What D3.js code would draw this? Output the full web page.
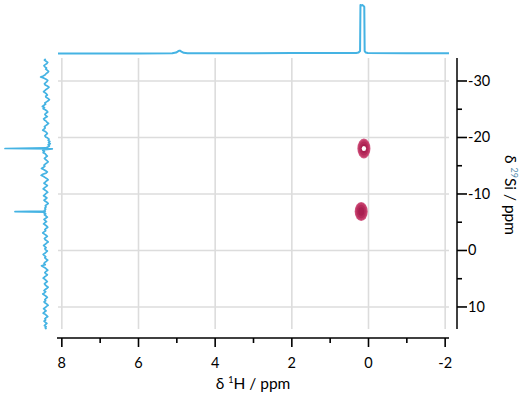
<!DOCTYPE html>
<html>
<head>
<meta charset="utf-8">
<script src="https://cdn.jsdelivr.net/npm/d3@7"></script>
<style>
  html, body { margin: 0; padding: 0; background: #fff; }
  svg { display: block; }
  text { font-family: Lato, "Noto Sans", sans-serif; }
</style>
</head>
<body>
<svg id="chart" width="532" height="402"></svg>
<script>
// ---------- DATA ----------
const hTicks = [8, 6, 4, 2, 0, -2];
const hMinorTicks = [7, 5, 3, 1, -1];
const siTicks = [-30, -20, -10, 0, 10];
const siMinorTicks = [-25, -15, -5, 5];

// Top projection: 1H spectrum [ppm, intensity]
const hSpectrum = [
  [8.1, 0], [6.0, 0], [5.12, 0.5], [5.02, 2], [4.96, 5], [4.92, 6], [4.88, 4], [4.82, 1.5], [4.72, 0.5],
  [2.0, 0.8], [0.32, 1], [0.26, 2], [0.22, 5], [0.21, 100], [0.18, 99], [0.16, 100], [0.13, 98],
  [0.11, 96], [0.10, 5], [0.07, 2], [0.02, 1], [-1.0, 0.5], [-2.1, 0.5]
];

// Left projection: 29Si spectrum [ppm, intensity]
const siSpectrum = [
  [-33.9, 2], [-33.7, 5], [-33.5, 1], [-33.3, -3], [-33.1, -1], [-32.9, 3], [-32.7, 6], [-32.5, 4],
  [-32.3, 0], [-32.1, 2], [-31.9, -2], [-31.7, -5], [-31.5, -3], [-31.3, 1], [-31.1, 3], [-30.9, 8],
  [-30.7, 14], [-30.5, 6], [-30.3, 1], [-30.1, -3], [-29.9, -1], [-29.7, 2], [-29.5, 5], [-29.3, 3],
  [-29.1, -2], [-28.9, -6], [-28.7, -3], [-28.5, 1], [-28.3, 4], [-28.1, 7], [-27.9, 3], [-27.7, 0],
  [-27.5, -2], [-27.3, 2], [-27.1, 1], [-26.9, -4], [-26.7, -7], [-26.5, -4], [-26.3, 0], [-26.1, 4],
  [-25.9, 2], [-25.7, 6], [-25.5, 10], [-25.3, 5], [-25.1, 8], [-24.9, 3], [-24.7, -1], [-24.5, -3],
  [-24.3, 1], [-24.1, 4], [-23.9, 2], [-23.7, -2], [-23.5, 3], [-23.3, 7], [-23.1, 5], [-22.9, 1],
  [-22.7, -1], [-22.5, -5], [-22.3, -2], [-22.1, 2], [-21.9, 5], [-21.7, 3], [-21.5, 6], [-21.3, 9],
  [-21.1, 4], [-20.9, 0], [-20.7, -2], [-20.5, 1], [-20.3, 4], [-20.1, 2], [-19.9, -3], [-19.7, -6],
  [-19.5, -4], [-19.3, -8], [-19.1, -5], [-18.9, -9], [-18.7, -4], [-18.5, -7], [-18.3, -3], [-18.15, 2],
  [-18.05, 100], [-17.97, -14], [-17.85, 4], [-17.7, 9], [-17.5, 5], [-17.3, 8], [-17.1, 3], [-16.9, 1],
  [-16.7, -2], [-16.5, 2], [-16.3, 5], [-16.1, 2], [-15.9, -1], [-15.7, -4], [-15.5, -1], [-15.3, 3],
  [-15.1, 6], [-14.9, 4], [-14.7, 8], [-14.5, 12], [-14.3, 6], [-14.1, 2], [-13.9, -2], [-13.7, 1],
  [-13.5, 9], [-13.3, 13], [-13.1, 7], [-12.9, 3], [-12.7, -1], [-12.5, -4], [-12.3, 0], [-12.1, 3],
  [-11.9, 6], [-11.7, 2], [-11.5, -2], [-11.3, 1], [-11.1, 5], [-10.9, 8], [-10.7, 4], [-10.5, 0],
  [-10.3, -3], [-10.1, 1], [-9.9, 4], [-9.7, 7], [-9.5, 3], [-9.3, -1], [-9.1, 2], [-8.9, 6],
  [-8.7, 3], [-8.5, -2], [-8.3, -4], [-8.1, 0], [-7.9, 3], [-7.7, 1], [-7.5, 4], [-7.3, 2],
  [-7.1, 5], [-6.95, 3], [-6.87, 76], [-6.8, 4], [-6.65, 6], [-6.5, 2], [-6.3, 5], [-6.1, 1],
  [-5.9, -2], [-5.7, 2], [-5.5, 6], [-5.3, 3], [-5.1, 0], [-4.9, 4], [-4.7, 7], [-4.5, 3],
  [-4.3, -1], [-4.1, -3], [-3.9, 1], [-3.7, 4], [-3.5, 2], [-3.3, 6], [-3.1, 9], [-2.9, 5],
  [-2.7, 1], [-2.5, -2], [-2.3, 2], [-2.1, 5], [-1.9, 3], [-1.7, -1], [-1.5, -4], [-1.3, 0],
  [-1.1, 3], [-0.9, 7], [-0.7, 4], [-0.5, 1], [-0.3, 4], [-0.1, 2], [0.1, -2], [0.3, 1],
  [0.5, 4], [0.7, 8], [0.9, 5], [1.1, 2], [1.3, 4], [1.5, 1], [1.7, -3], [1.9, 0],
  [2.1, 4], [2.3, 6], [2.5, 3], [2.7, 12], [2.9, 8], [3.1, 3], [3.3, 0], [3.5, -3],
  [3.7, 1], [3.9, 4], [4.1, 2], [4.3, -2], [4.5, 1], [4.7, 5], [4.9, 8], [5.1, 4],
  [5.3, 1], [5.5, -2], [5.7, 2], [5.9, 5], [6.1, 3], [6.3, 0], [6.5, -4], [6.7, -1],
  [6.9, 3], [7.1, 6], [7.3, 2], [7.5, 5], [7.7, 9], [7.9, 5], [8.1, 1], [8.3, -2],
  [8.5, 1], [8.7, 4], [8.9, 2], [9.1, 6], [9.3, 3], [9.5, -1], [9.7, -4], [9.9, 0],
  [10.1, 3], [10.3, 7], [10.5, 4], [10.7, 1], [10.9, 5], [11.1, 8], [11.3, 3], [11.5, 0],
  [11.7, -3], [11.9, 1], [12.1, 4], [12.3, 2], [12.5, 6], [12.7, 3], [12.9, -1], [13.1, 2],
  [13.3, 5], [13.5, 1], [13.7, 3], [13.9, 0]
];

// 2D cross peaks: 1H shift, 29Si shift, half-widths (ppm)
const peakH = [0.12, 0.19];
const peakSi = [-18.05, -6.9];
const peakHalfH = [0.17, 0.17];
const peakHalfSi = [1.75, 1.7];
const peakHole = [true, false];

// ---------- LAYOUT ----------
const svg = d3.select("#chart");
const plotL = 58, plotR = 449, plotT = 58, plotB = 329;
const blue = "#45b3e3";

const x = d3.scaleLinear().domain([8.1, -2.1]).range([plotL, plotR]);
const y = d3.scaleLinear().domain([-34.07, 13.9]).range([plotT, plotB]);

// grid
const grid = svg.append("g");
grid.selectAll("line.v").data(hTicks).join("line")
  .attr("x1", d => x(d)).attr("x2", d => x(d))
  .attr("y1", plotT).attr("y2", plotB)
  .attr("stroke", "#dcdcdc").attr("stroke-width", 1.6);
grid.selectAll("line.h").data(siTicks).join("line")
  .attr("x1", plotL).attr("x2", plotR)
  .attr("y1", d => y(d)).attr("y2", d => y(d))
  .attr("stroke", "#dcdcdc").attr("stroke-width", 1.6);

// cross peaks
const peaks = svg.append("g");
const peakData = peakH.map((h, i) => ({h, si: peakSi[i], dh: peakHalfH[i], dsi: peakHalfSi[i], hole: peakHole[i]}));
const layers = [
  {f: 1.0, c: "#d0557f"},
  {f: 0.88, c: "#c23a68"},
  {f: 0.7, c: "#b42a5a"},
  {f: 0.45, c: "#a91f50"}
];
peakData.forEach(p => {
  const rx = Math.abs(x(p.h + p.dh) - x(p.h));
  const ry = Math.abs(y(p.si + p.dsi) - y(p.si));
  layers.forEach(L => {
    peaks.append("ellipse")
      .attr("cx", x(p.h)).attr("cy", y(p.si))
      .attr("rx", rx * L.f).attr("ry", ry * L.f)
      .attr("fill", L.c);
  });
  if (p.hole) {
    peaks.append("ellipse")
      .attr("cx", x(p.h)).attr("cy", y(p.si))
      .attr("rx", 2.2).attr("ry", 2.6).attr("fill", "#ffffff");
  }
});

// top projection
const topY = d3.scaleLinear().domain([0, 100]).range([53.5, 5]);
svg.append("path").datum(hSpectrum)
  .attr("d", d3.line().x(d => x(d[0])).y(d => topY(d[1])))
  .attr("fill", "none").attr("stroke", blue).attr("stroke-width", 2)
  .attr("stroke-linejoin", "round");

// left projection
const leftX = d3.scaleLinear().domain([0, 100]).range([46.5, 5]);
svg.append("path").datum(siSpectrum)
  .attr("d", d3.line().x(d => leftX(d[1])).y(d => y(d[0])))
  .attr("fill", "none").attr("stroke", blue).attr("stroke-width", 1.7)
  .attr("stroke-linejoin", "round");

// bottom axis
const axB = svg.append("g");
const axisY = 338;
axB.append("line").attr("x1", plotL - 1).attr("x2", plotR).attr("y1", axisY).attr("y2", axisY)
  .attr("stroke", "#000").attr("stroke-width", 1.5);
axB.selectAll("line.maj").data(hTicks).join("line")
  .attr("x1", d => x(d)).attr("x2", d => x(d)).attr("y1", axisY).attr("y2", axisY + 9)
  .attr("stroke", "#000").attr("stroke-width", 1.6);
axB.selectAll("line.min").data(hMinorTicks).join("line")
  .attr("x1", d => x(d)).attr("x2", d => x(d)).attr("y1", axisY).attr("y2", axisY + 5)
  .attr("stroke", "#000").attr("stroke-width", 1.6);
axB.selectAll("text").data(hTicks).join("text")
  .attr("x", d => x(d)).attr("y", 368)
  .attr("text-anchor", "middle").attr("font-size", 14.5).attr("fill", "#000")
  .text(d => d);
const xt = svg.append("text").attr("x", 253).attr("y", 389)
  .attr("text-anchor", "middle").attr("font-size", 15.5).attr("fill", "#000");
xt.append("tspan").text("δ ");
xt.append("tspan").attr("font-size", 9).attr("dy", -6).text("1");
xt.append("tspan").attr("dy", 6).text("H / ppm");

// right axis
const axR = svg.append("g");
const axisX = 457;
axR.append("line").attr("x1", axisX).attr("x2", axisX).attr("y1", plotT).attr("y2", plotB)
  .attr("stroke", "#000").attr("stroke-width", 1.5);
axR.selectAll("line.maj").data(siTicks).join("line")
  .attr("x1", axisX).attr("x2", axisX + 10).attr("y1", d => y(d)).attr("y2", d => y(d))
  .attr("stroke", "#000").attr("stroke-width", 1.6);
axR.selectAll("line.min").data(siMinorTicks).join("line")
  .attr("x1", axisX).attr("x2", axisX + 5).attr("y1", d => y(d)).attr("y2", d => y(d))
  .attr("stroke", "#000").attr("stroke-width", 1.6);
axR.selectAll("text").data(siTicks).join("text")
  .attr("x", 468).attr("y", d => y(d) + 5)
  .attr("text-anchor", "start").attr("font-size", 14.5).attr("fill", "#000")
  .text(d => d < 0 ? "-" + Math.abs(d) : d);
const yt = svg.append("text")
  .attr("transform", "translate(505,195) rotate(90)")
  .attr("text-anchor", "middle").attr("font-size", 15.5).attr("fill", "#000");
yt.append("tspan").text("δ ");
yt.append("tspan").attr("font-size", 9).attr("dy", -6).attr("fill", "#5a8fb0").text("29");
yt.append("tspan").attr("dy", 6).text("Si / ppm");
</script>
</body>
</html>
